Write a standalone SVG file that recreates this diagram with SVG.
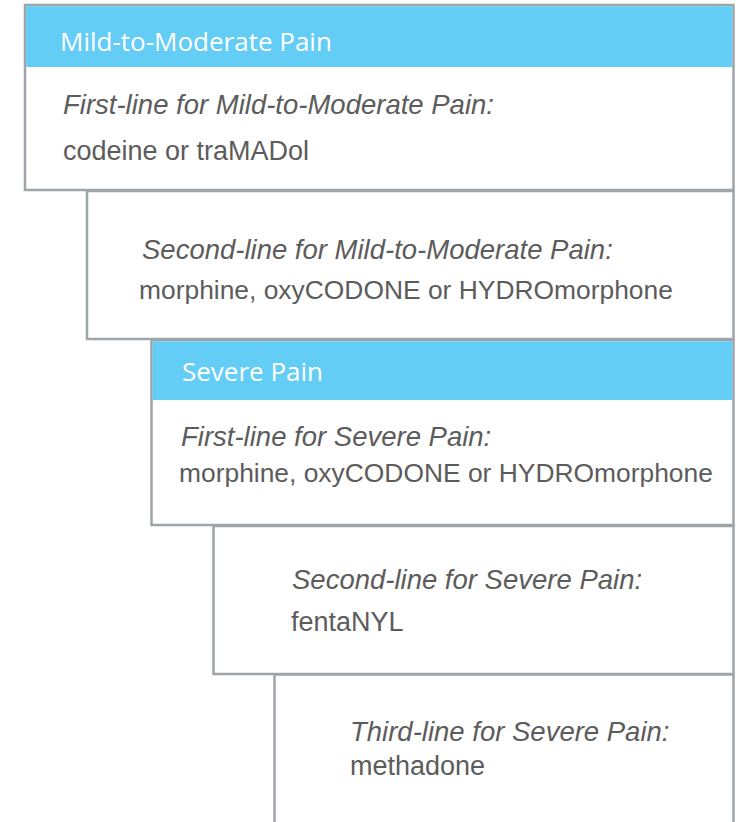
<svg xmlns="http://www.w3.org/2000/svg" width="739" height="822" viewBox="0 0 739 822">
<style>
.box{fill:#ffffff;stroke:#9fa4a9;stroke-width:2.5}
.hdr{fill:#64cdf5}
.ht{font-family:"Open Sans","Noto Sans",sans-serif;font-size:26px;fill:#ffffff}
.it{font-family:"Liberation Sans",Arial,sans-serif;font-style:italic;font-size:27.5px;fill:#5c5c5c}
.tx{font-family:"Liberation Sans",Arial,sans-serif;font-size:27px;fill:#5c5c5c}
.tx2{font-size:26.4px}
</style>
<rect width="739" height="822" fill="#ffffff"/>
<g id="connectors"/>
<g id="mild-first">
<rect class="box" x="25" y="5" width="708.5" height="185"/>
<rect class="hdr" x="26.2" y="6.2" width="706" height="60.8"/>
<text class="ht" x="60" y="51">Mild-to-Moderate Pain</text>
<text class="it" x="63" y="114">First-line for Mild-to-Moderate Pain:</text>
<text class="tx" x="63" y="160">codeine or traMADol</text>
</g>
<g id="mild-second">
<rect class="box" x="87" y="191" width="646.5" height="148"/>
<text class="it" x="142" y="259">Second-line for Mild-to-Moderate Pain:</text>
<text class="tx tx2" x="139" y="299">morphine, oxyCODONE or HYDROmorphone</text>
</g>
<g id="severe-first">
<rect class="box" x="151.5" y="340" width="582" height="185"/>
<rect class="hdr" x="152.7" y="341.2" width="579.6" height="58.8"/>
<text class="ht" x="182" y="381">Severe Pain</text>
<text class="it" x="181" y="446">First-line for Severe Pain:</text>
<text class="tx tx2" x="179" y="482">morphine, oxyCODONE or HYDROmorphone</text>
</g>
<g id="severe-second">
<rect class="box" x="213.5" y="526" width="520" height="148"/>
<text class="it" x="292" y="589">Second-line for Severe Pain:</text>
<text class="tx" x="291" y="631">fentaNYL</text>
</g>
<g id="severe-third">
<rect class="box" x="274.5" y="674.5" width="459" height="170"/>
<text class="it" x="350" y="741">Third-line for Severe Pain:</text>
<text class="tx" x="350" y="775">methadone</text>
</g>
</svg>
